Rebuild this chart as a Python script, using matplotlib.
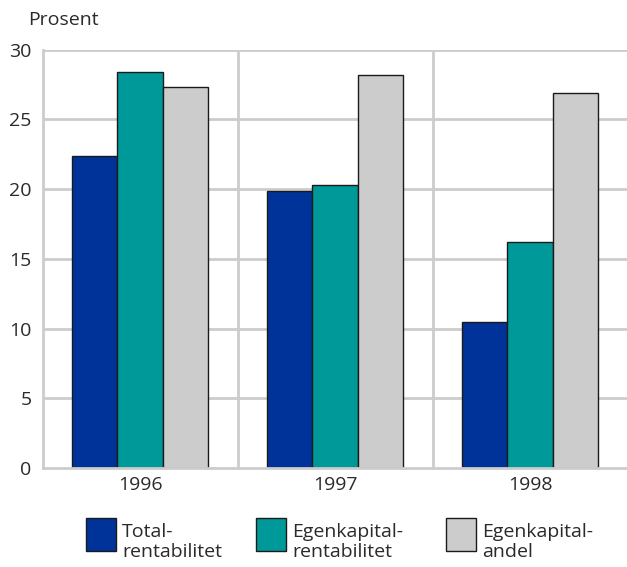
import matplotlib
matplotlib.use("Agg")
import matplotlib.pyplot as plt
from matplotlib.patches import Rectangle
import numpy as np

plt.rcParams['font.family'] = ['Open Sans', 'DejaVu Sans']
plt.rcParams['font.weight'] = 'normal'
tc = '#2a2a2a'
plt.rcParams['text.color'] = tc

years = ["1996", "1997", "1998"]
series_names = ["Total-\nrentabilitet", "Egenkapital-\nrentabilitet", "Egenkapital-\nandel"]
totalrent = [22.4, 19.9, 10.5]
egenrent = [28.4, 20.3, 16.2]
egenandel = [27.3, 28.2, 26.9]
colors = ["#003399", "#009999", "#cccccc"]
yticks = [0, 5, 10, 15, 20, 25, 30]

W, H = 627, 567
fig = plt.figure(figsize=(W / 100, H / 100), dpi=100)
ax = fig.add_axes([42.5 / W, 1 - 468 / H, (627.5 - 42.5) / W, (468 - 49.7) / H])

x = np.arange(len(years))
bw = 0.234
for i, (vals, c) in enumerate(zip([totalrent, egenrent, egenandel], colors)):
    ax.bar(x + (i - 1) * bw, vals, width=bw, color=c, edgecolor="#1a1a1a",
           linewidth=1.0, zorder=3)

gc = "#cccccc"
ax.set_xlim(-0.5, 2.5)
ax.set_ylim(0, 30)
ax.set_yticks(yticks)
ax.set_yticklabels([str(t) for t in yticks], fontsize=14, color=tc)
ax.set_xticks(x)
ax.set_xticklabels(years, fontsize=14, color=tc)
ax.tick_params(length=0)
ax.tick_params(axis='y', pad=8)
ax.tick_params(axis='x', pad=6)
for t in yticks[1:]:
    ax.axhline(t, color=gc, lw=2, zorder=1)
for v in [0.5, 1.5]:
    ax.axvline(v, color=gc, lw=2, zorder=1)
for s in ["top", "right"]:
    ax.spines[s].set_visible(False)
for s in ["left", "bottom"]:
    ax.spines[s].set_color(gc)
    ax.spines[s].set_linewidth(2)
    ax.spines[s].set_zorder(4)

fig.text(28 / W, 1 - 20 / H, "Prosent", fontsize=14, va="center", ha="left")

# legend
box_x = [86, 256, 446]
for bx, c, name in zip(box_x, colors, series_names):
    fig.patches.append(Rectangle((bx / W, 1 - 551 / H), 30 / W, 33 / H,
                                 transform=fig.transFigure, facecolor=c,
                                 edgecolor="#1a1a1a", lw=1.0))
    fig.text((bx + 36) / W, 1 - 542 / H, name, fontsize=14, va="center",
             ha="left", linespacing=1.18)

fig.savefig("out.png", dpi=100)
